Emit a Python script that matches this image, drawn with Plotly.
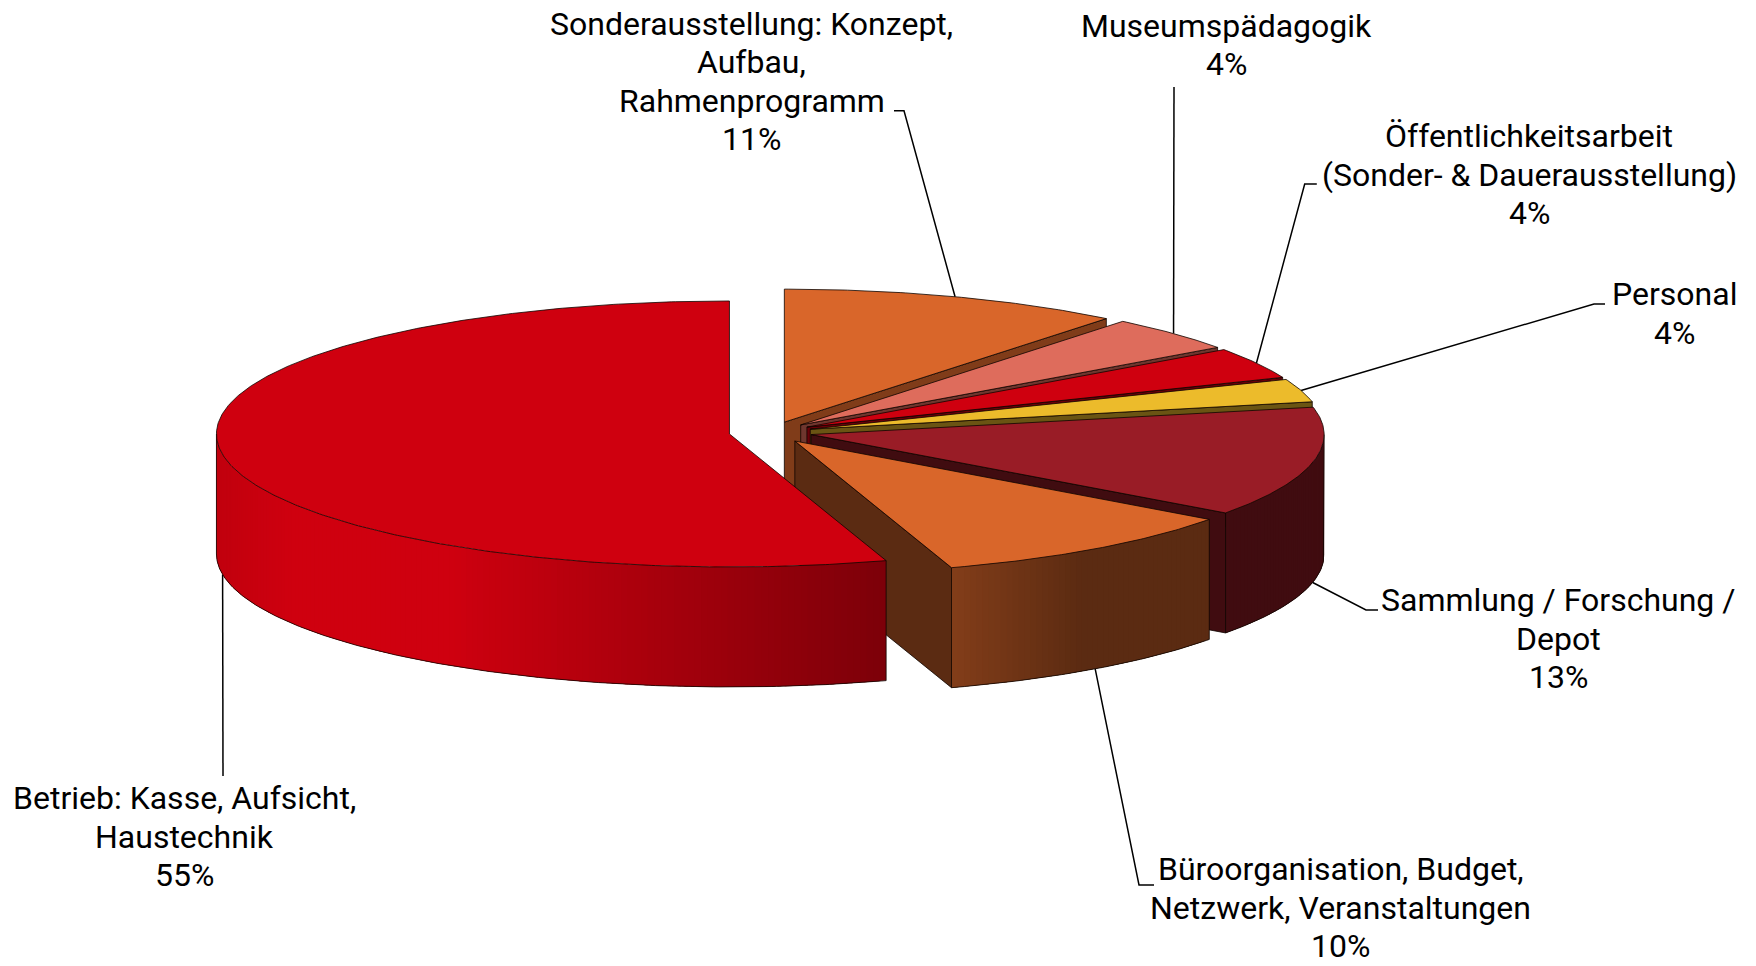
import math
import plotly.graph_objects as go

# ---- data (clockwise from 12 o'clock) ----
categories = [
    ["Sonderausstellung: Konzept,", "Aufbau,", "Rahmenprogramm"],
    ["Museumspädagogik"],
    ["Öffentlichkeitsarbeit", "(Sonder- & Dauerausstellung)"],
    ["Personal"],
    ["Sammlung / Forschung /", "Depot"],
    ["Büroorganisation, Budget,", "Netzwerk, Veranstaltungen"],
    ["Betrieb: Kasse, Aufsicht,", "Haustechnik"],
]
shares = [10.8, 4.3, 3.8, 2.8, 13.33, 10.03, 54.94]
percent_labels = ["11%", "4%", "4%", "4%", "13%", "10%", "55%"]

# ---- styling ----
top_colors = ["#D9662A", "#DE6C5C", "#CF000F", "#ECBB2B", "#991C26", "#D9662A", "#CF000F"]
face_shade = [0.59, 0.50, 0.50, 0.45, 0.42, 0.42, 0.42]

W, H = 1756, 966
CX, CY = 770.5, 432.3     # pie centre, px
RX, RY = 513.0, 133.0     # projected radii
DEPTH = 120.0             # extrusion
EXPLODE = 0.081
EDGE = "rgba(15,5,0,0.8)"
FONT = dict(family="Roboto", size=32, color="#000000")
LINE_GAP = 38.4

# label box centres and leader routes (label end + elbow)
label_pos = [(751.5, 81.5), (1226.6, 44.8), (1529, 174.7), (1674, 313.6),
             (1558, 638.5), (1340.6, 907.5), (184, 836.6)]
leader_tail = [
    [(894, 110.7), (904, 110.7)],
    [(1174, 87)],
    [(1316.8, 184), (1304.7, 184)],
    [(1605, 304), (1594, 304)],
    [(1378, 610), (1366, 610)],
    [(1154, 885), (1139, 885)],
    [(223, 776)],
]


def rgb(hex_color, k=1.0):
    h = hex_color.lstrip("#")
    r, g, b = [int(h[i:i + 2], 16) for i in (0, 2, 4)]
    return f"rgb({round(r * k)},{round(g * k)},{round(b * k)})"


def wall_shade(s):
    """Lighting of the outer wall from the sine of the angle."""
    stops = [(-1.0, 0.93), (-0.85, 1.0), (-0.555, 1.0), (0.307, 0.60), (0.56, 0.42), (1.0, 0.42)]
    for (a, va), (b, vb) in zip(stops, stops[1:]):
        if s <= b:
            return va + (vb - va) * (s - a) / (b - a)
    return stops[-1][1]


def pt(ox, oy, deg, dz=0.0):
    t = math.radians(deg)
    return ox + RX * math.sin(t), oy - RY * math.cos(t) + dz


def arc(ox, oy, a0, a1, dz=0.0, step=0.5):
    n = max(2, int(abs(a1 - a0) / step))
    return [pt(ox, oy, a0 + (a1 - a0) * i / n, dz) for i in range(n + 1)]


fig = go.Figure()


def poly(points, fill, line_color=None, width=1.0, closed=True):
    xs = [p[0] for p in points]
    ys = [p[1] for p in points]
    if closed:
        xs.append(xs[0]); ys.append(ys[0])
    fig.add_trace(go.Scatter(
        x=xs, y=ys, mode="lines", hoverinfo="skip", showlegend=False,
        fill="toself" if fill else "none", fillcolor=fill,
        line=dict(color=line_color or fill or "black", width=width),
    ))


total = sum(shares)
angles = [0.0]
for v in shares:
    angles.append(angles[-1] + v / total * 360.0)

centres = []
for i in range(len(shares)):
    mid = math.radians((angles[i] + angles[i + 1]) / 2)
    centres.append((CX + EXPLODE * RX * math.sin(mid), CY - EXPLODE * RY * math.cos(mid)))

# leader lines sit behind the pie
for i in range(len(shares)):
    mid = (angles[i] + angles[i + 1]) / 2
    ox, oy = centres[i]
    dz = DEPTH if 90 < mid < 270 else 0.0
    head = pt(ox, oy, mid, dz)
    route = [head] + leader_tail[i][::-1]
    poly(route, None, "#000000", 1.5, closed=False)

# slices back to front
for i in range(len(shares)):
    a0, a1 = angles[i], angles[i + 1]
    ox, oy = centres[i]
    col = top_colors[i]

    # flat cut face on the clockwise side (faces the viewer up to 180 degrees)
    if a1 <= 180:
        tip = pt(ox, oy, a1)
        poly([(ox, oy), tip, (tip[0], tip[1] + DEPTH), (ox, oy + DEPTH)],
             rgb(col, face_shade[i]), EDGE, 1.0)

    # curved outer wall, only its front half shows; each strip is overpainted
    # by the next, so no seams can appear
    w0, w1 = max(a0, 90.0), min(a1, 270.0)
    if w1 > w0:
        n = int((w1 - w0) / 0.75) + 1
        for k in range(n):
            b0 = w0 + (w1 - w0) * k / n
            b1 = min(w1, b0 + (w1 - w0) / n * 2.5)
            s = math.sin(math.radians(b0 + (w1 - w0) / n / 2))
            c = rgb(col, wall_shade(s))
            quad = arc(ox, oy, b0, b1, 0, 0.2) + arc(ox, oy, b1, b0, DEPTH, 0.2)
            poly(quad, c, "rgba(0,0,0,0)", 0)
        outline = arc(ox, oy, w0, w0, 0) + arc(ox, oy, w0, w1, DEPTH) + arc(ox, oy, w1, w1, 0)
        poly(outline, None, EDGE, 1.0, closed=False)

    # top face
    poly([(ox, oy)] + arc(ox, oy, a0, a1), rgb(col), EDGE, 1.0)

for i, cat in enumerate(categories):
    lines = cat + [percent_labels[i]]
    first = label_pos[i][1] - LINE_GAP * (len(lines) - 1) / 2
    for j, txt in enumerate(lines):
        fig.add_annotation(
            x=label_pos[i][0], y=first + j * LINE_GAP, xref="x", yref="y",
            text=txt, showarrow=False,
            align="center", xanchor="center", yanchor="middle", font=FONT,
        )

fig.update_layout(
    width=W, height=H, margin=dict(l=0, r=0, t=0, b=0),
    paper_bgcolor="white", plot_bgcolor="white", showlegend=False,
    xaxis=dict(range=[0, W], visible=False, fixedrange=True),
    yaxis=dict(range=[H, 0], visible=False, fixedrange=True),
)
fig.write_html("out.html", config={"displayModeBar": False},
               post_script="document.body.style.margin='0';document.body.style.overflow='hidden';")
